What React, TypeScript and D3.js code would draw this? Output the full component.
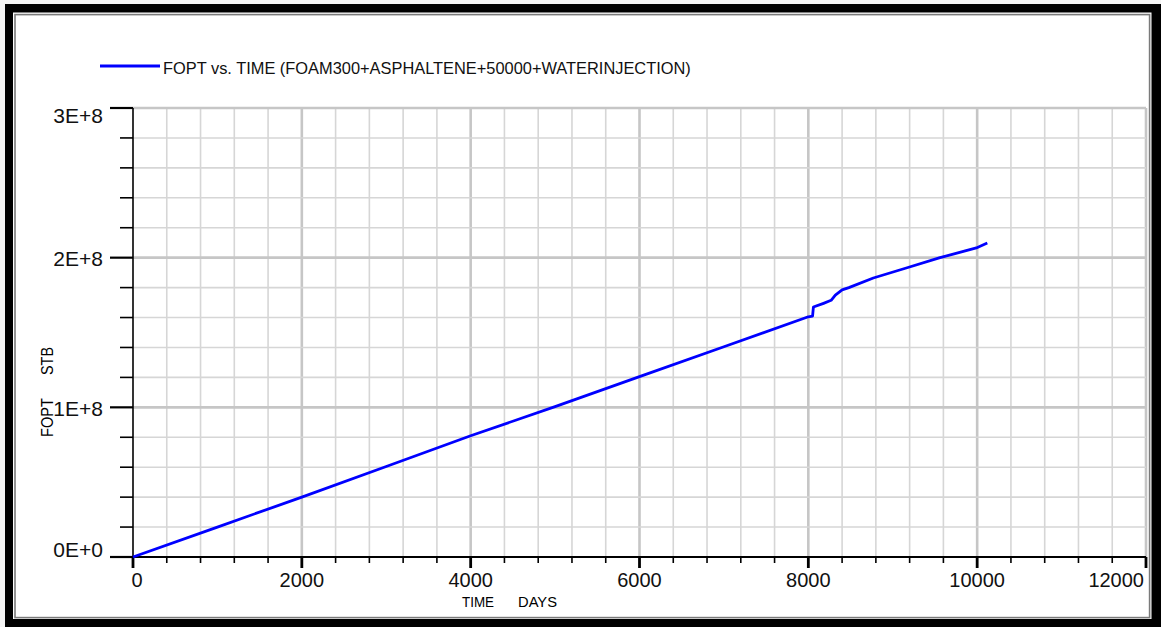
import React from "react";
import * as d3 from "d3";

// Cumulative field oil production vs. simulation time
const timeDays = [
  0, 1000, 2000, 3000, 4000, 5000, 6000, 7000, 8000, 8050, 8060, 8180, 8270,
  8320, 8400, 8480, 8770, 9160, 9560, 9990, 10120,
];
const foptStb = [
  0, 2.0e7, 4.0e7, 6.05e7, 8.1e7, 1.005e8, 1.205e8, 1.405e8, 1.605e8, 1.61e8,
  1.67e8, 1.695e8, 1.715e8, 1.75e8, 1.785e8, 1.8e8, 1.864e8, 1.931e8, 2.0e8,
  2.065e8, 2.098e8,
];

const xMajorTicks = [0, 2000, 4000, 6000, 8000, 10000, 12000];
const xTickLabels = ["0", "2000", "4000", "6000", "8000", "10000", "12000"];
const yMajorTicks = [0, 1e8, 2e8, 3e8];
const yTickLabels = ["0E+0", "1E+8", "2E+8", "3E+8"];
const xMinorStep = 400;
const yMinorStep = 2e7;

const legendLabel = "FOPT vs. TIME (FOAM300+ASPHALTENE+50000+WATERINJECTION)";

const W = 1161;
const H = 627;
const FONT = "'Liberation Sans', Arial, sans-serif";

export default function App() {
  const x = d3.scaleLinear().domain([0, 12000]).range([133, 1146]);
  const y = d3.scaleLinear().domain([0, 3e8]).range([557, 108]);

  const xMinor = d3.range(xMinorStep, 12000 + 1, xMinorStep);
  const yMinor = d3.range(yMinorStep, 3e8 + 1, yMinorStep);
  const isXMajor = (v: number) => v % 2000 === 0;
  const isYMajor = (v: number) => Math.abs(v % 1e8) < 1;

  const line = d3
    .line<number>()
    .x((_, i) => x(timeDays[i]))
    .y((d) => y(d));

  const [x0, x1] = x.range();
  const [y0, y1] = y.range();

  return (
    <svg
      width={W}
      height={H}
      style={{ position: "absolute", left: 0, top: 0, display: "block" }}
    >
      {/* window frame */}
      <rect x={0} y={0} width={W} height={H} fill="#f4f4f4" />
      <rect x={5} y={4} width={W - 5} height={H - 4} fill="#000" />
      <rect x={13} y={12.5} width={1138.5} height={606.5} fill="#fff" />
      <rect
        x={15}
        y={14.6}
        width={1134.6}
        height={603}
        fill="none"
        stroke="#7a7a7a"
        strokeWidth={1.6}
      />

      {/* grid */}
      {xMinor.map((v) => (
        <line
          key={"gx" + v}
          x1={x(v)}
          x2={x(v)}
          y1={y1}
          y2={y0}
          stroke={isXMajor(v) ? "#c6c6c6" : "#d6d6d6"}
          strokeWidth={isXMajor(v) ? 2.6 : 1.6}
        />
      ))}
      {yMinor.map((v) => (
        <line
          key={"gy" + v}
          x1={x0}
          x2={x1}
          y1={y(v)}
          y2={y(v)}
          stroke={isYMajor(v) ? "#c6c6c6" : "#d6d6d6"}
          strokeWidth={isYMajor(v) ? 2.6 : 1.6}
        />
      ))}

      {/* axes */}
      <line x1={x0} x2={x0} y1={y1} y2={y0} stroke="#000" strokeWidth={1.6} />
      <line x1={x0} x2={x1} y1={y0} y2={y0} stroke="#000" strokeWidth={2} />

      {/* y ticks */}
      {yMinor
        .filter((v) => !isYMajor(v))
        .map((v) => (
          <line
            key={"ty" + v}
            x1={x0 - 13}
            x2={x0}
            y1={y(v)}
            y2={y(v)}
            stroke="#000"
            strokeWidth={1.6}
          />
        ))}
      {yMajorTicks.map((v) => (
        <line
          key={"tY" + v}
          x1={x0 - 23}
          x2={x0}
          y1={y(v)}
          y2={y(v)}
          stroke="#000"
          strokeWidth={2.2}
        />
      ))}

      {/* x ticks */}
      {xMinor
        .filter((v) => !isXMajor(v))
        .map((v) => (
          <line
            key={"tx" + v}
            x1={x(v)}
            x2={x(v)}
            y1={y0}
            y2={y0 + 6}
            stroke="#000"
            strokeWidth={1.6}
          />
        ))}
      {xMajorTicks.map((v) => (
        <line
          key={"tX" + v}
          x1={x(v)}
          x2={x(v)}
          y1={y0}
          y2={y0 + 11}
          stroke="#000"
          strokeWidth={2.8}
        />
      ))}

      {/* tick labels */}
      {yMajorTicks.map((v, i) => {
        let base = y(v) + 8.5;
        if (i === 0) base = y0;
        if (i === yMajorTicks.length - 1) base = y1 + 14.5;
        return (
          <text
            key={"ly" + v}
            x={103}
            y={base}
            textAnchor="end"
            fontFamily={FONT}
            fontSize={21}
            fill="#111"
          >
            {yTickLabels[i]}
          </text>
        );
      })}
      {xMajorTicks.map((v, i) => {
        let anchor: "start" | "middle" | "end" = "middle";
        let px = x(v);
        if (i === 0) {
          anchor = "start";
          px = x(v) - 1.5;
        } else if (i === xMajorTicks.length - 1) {
          anchor = "end";
          px = x(v) - 2;
        }
        return (
          <text
            key={"lx" + v}
            x={px}
            y={587}
            textAnchor={anchor}
            fontFamily={FONT}
            fontSize={20}
            fill="#111"
          >
            {xTickLabels[i]}
          </text>
        );
      })}

      {/* axis titles */}
      <text
        x={462}
        y={607}
        fontFamily={FONT}
        fontSize={14}
        textLength={32}
        lengthAdjust="spacingAndGlyphs"
        fill="#000"
      >
        TIME
      </text>
      <text
        x={518}
        y={607}
        fontFamily={FONT}
        fontSize={14}
        textLength={39}
        lengthAdjust="spacingAndGlyphs"
        fill="#000"
      >
        DAYS
      </text>
      <text
        transform="translate(53,437) rotate(-90)"
        fontFamily={FONT}
        fontSize={17}
        textLength={39}
        lengthAdjust="spacingAndGlyphs"
        fill="#000"
      >
        FOPT
      </text>
      <text
        transform="translate(53,375) rotate(-90)"
        fontFamily={FONT}
        fontSize={17}
        textLength={28}
        lengthAdjust="spacingAndGlyphs"
        fill="#000"
      >
        STB
      </text>

      {/* data series */}
      <path
        d={line(foptStb) || ""}
        fill="none"
        stroke="#0000ff"
        strokeWidth={2.8}
        strokeLinejoin="round"
      />

      {/* legend */}
      <line x1={100} x2={160} y1={66} y2={66} stroke="#0000ff" strokeWidth={3} />
      <text x={163} y={73.5} fontFamily={FONT} fontSize={16.4} fill="#111">
        {legendLabel}
      </text>
    </svg>
  );
}
